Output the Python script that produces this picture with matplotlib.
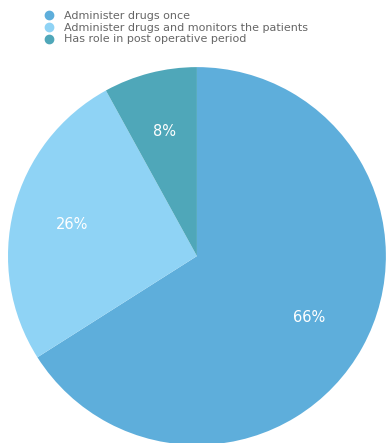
import matplotlib.pyplot as plt
from matplotlib.lines import Line2D

labels = ['Administer drugs once',
          'Administer drugs and monitors the patients',
          'Has role in post operative period']
shares = [66, 26, 8]
colors = ['#5eaedb', '#8fd3f5', '#4fa7b9']

fig = plt.figure(figsize=(3.86, 4.43), dpi=100)
# pie centre approx (197, 256) px, radius approx 189 px
ax = fig.add_axes([0.0207, -0.0045, 0.979, 0.853])

wedges, texts, autotexts = ax.pie(
    shares, colors=colors, startangle=90, counterclock=False,
    autopct='%d%%', pctdistance=0.68, radius=1,
    wedgeprops=dict(linewidth=0))
for t in autotexts:
    t.set_color('white')
    t.set_fontsize(10.5)
ax.set_xlim(-1, 1)
ax.set_ylim(-1, 1)
ax.set_aspect('equal')
ax.axis('off')

handles = [Line2D([], [], marker='o', linestyle='', markersize=6,
                  markerfacecolor=c, markeredgecolor=c) for c in colors]
fig.legend(handles, labels, loc='upper left', bbox_to_anchor=(0.08, 1.0),
           frameon=False, fontsize=8, handletextpad=0.8, handlelength=1.2,
           labelspacing=0.15, borderpad=0.5, labelcolor='#666666')

fig.savefig('out.png', dpi=100)
